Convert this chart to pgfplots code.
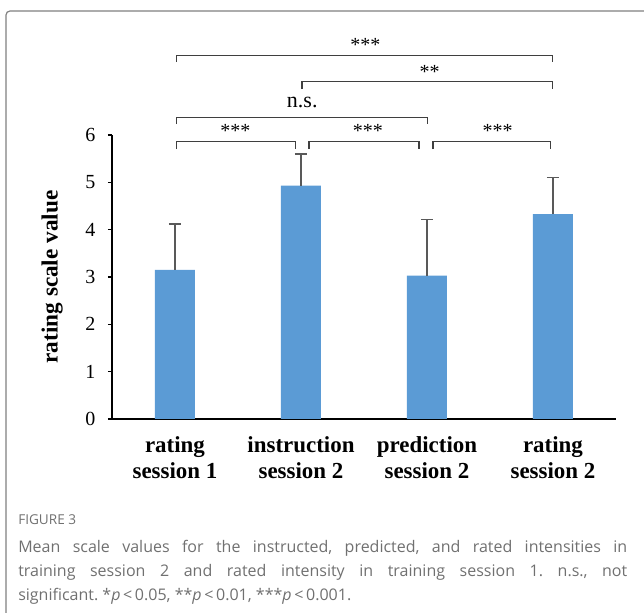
\documentclass[border=0pt]{standalone}
\usepackage{pgfplots}
\pgfplotsset{compat=1.18}
\usepackage{fontspec}
\setmainfont{Liberation Serif}
\newfontfamily\capfont{Open Sans}
\definecolor{barblue}{HTML}{5B9BD5}
\definecolor{errgray}{HTML}{595959}
\definecolor{brgray}{HTML}{3F3F3F}
\definecolor{capgray}{HTML}{707070}
\definecolor{framegray}{HTML}{808080}
\pgfplotstableread{
x y e
0.5 3.15 0.97
1.5 4.93 0.67
2.5 3.03 1.18
3.5 4.33 0.77
}\bars
\frenchspacing
\begin{document}
\begin{tikzpicture}
\useasboundingbox (0,0) rectangle (483pt,459.75pt);
\draw[framegray, line width=0.9pt, rounded corners=3pt] (4.5pt,-20pt) -- (4.5pt,451.5pt) -- (520pt,451.5pt);
\begin{axis}[
  at={(84pt,145.5pt)}, anchor=south west,
  scale only axis, width=378pt, height=213pt,
  xmin=0, xmax=4, ymin=0, ymax=6,
  axis lines*=left,
  axis line style={black, line width=1pt},
  ybar, bar width=30pt,
  clip=false,
  ytick={0,1,2,3,4,5,6},
  xtick={0.5,1.5,2.5,3.5},
  xticklabels={{rating\\session 1},{instruction\\session 2},{prediction\\session 2},{rating\\session 2}},
  x tick style={draw=none},
  y tick style={black, line width=1pt},
  tick align=outside, major tick length=3pt,
  /pgf/number format/assume math mode=true,
  yticklabel style={font=\fontsize{15}{16}\selectfont, xshift=-6pt},
  xticklabel style={align=center, font=\bfseries\fontsize{17.2}{19.5}\selectfont, yshift=-6.5pt},
  ylabel={rating scale value},
  ylabel style={font=\bfseries\fontsize{17.4}{19.5}\selectfont, at={(axis description cs:-0.119,0.5)}, anchor=center},
]
\addplot[fill=barblue, draw=none,
  error bars/.cd, y dir=plus, y explicit,
  error bar style={draw=errgray, line width=1pt},
  error mark=|,
  error mark options={draw=errgray, line width=1pt, mark size=4.5pt}]
  table[x=x, y=y, y error=e] {\bars};
% significance brackets
\begin{scope}[brgray, line width=0.9pt]
\draw (axis cs:0.513,7.54) -- (axis cs:0.513,7.68) -- (axis cs:3.498,7.68) -- (axis cs:3.498,7.54);
\draw (axis cs:1.508,6.97) -- (axis cs:1.508,7.13) -- (axis cs:3.498,7.13) -- (axis cs:3.498,6.97);
\draw (axis cs:0.513,6.23) -- (axis cs:0.513,6.37) -- (axis cs:2.504,6.37) -- (axis cs:2.504,6.23);
\draw (axis cs:0.513,5.70) -- (axis cs:0.513,5.86) -- (axis cs:1.458,5.86) -- (axis cs:1.458,5.70);
\draw (axis cs:1.563,5.70) -- (axis cs:1.563,5.86) -- (axis cs:2.437,5.86) -- (axis cs:2.437,5.70);
\draw (axis cs:2.548,5.70) -- (axis cs:2.548,5.86) -- (axis cs:3.482,5.86) -- (axis cs:3.482,5.70);
\end{scope}
\begin{scope}[font=\fontsize{15}{16}\selectfont]
\node at (axis cs:2.01,7.90) {***};
\node at (axis cs:2.52,7.33) {**};
\node at (axis cs:0.98,6.09) {***};
\node at (axis cs:2.03,6.09) {***};
\node at (axis cs:3.06,6.09) {***};
\end{scope}
\node[font=\fontsize{16.5}{18}\selectfont] at (axis cs:1.51,6.68) {n.s.};
\end{axis}
\node[anchor=west, text=capgray, font=\capfont\fontsize{10.2}{12}\selectfont, inner sep=0pt] at (13.5pt,69.75pt) {FIGURE 3};
\node[anchor=north west, inner sep=0pt, text width=456.75pt, align=justify, text=capgray, font=\capfont\fontsize{12}{18}\selectfont] at (13.5pt,54.75pt)
{Mean scale values for the instructed, predicted, and rated intensities in\linebreak training session 2 and rated intensity in training session 1. n.s., not\linebreak significant. *\textit{p}\,<\,0.05, **\textit{p}\,<\,0.01, ***\textit{p}\,<\,0.001.};
\end{tikzpicture}
\end{document}
